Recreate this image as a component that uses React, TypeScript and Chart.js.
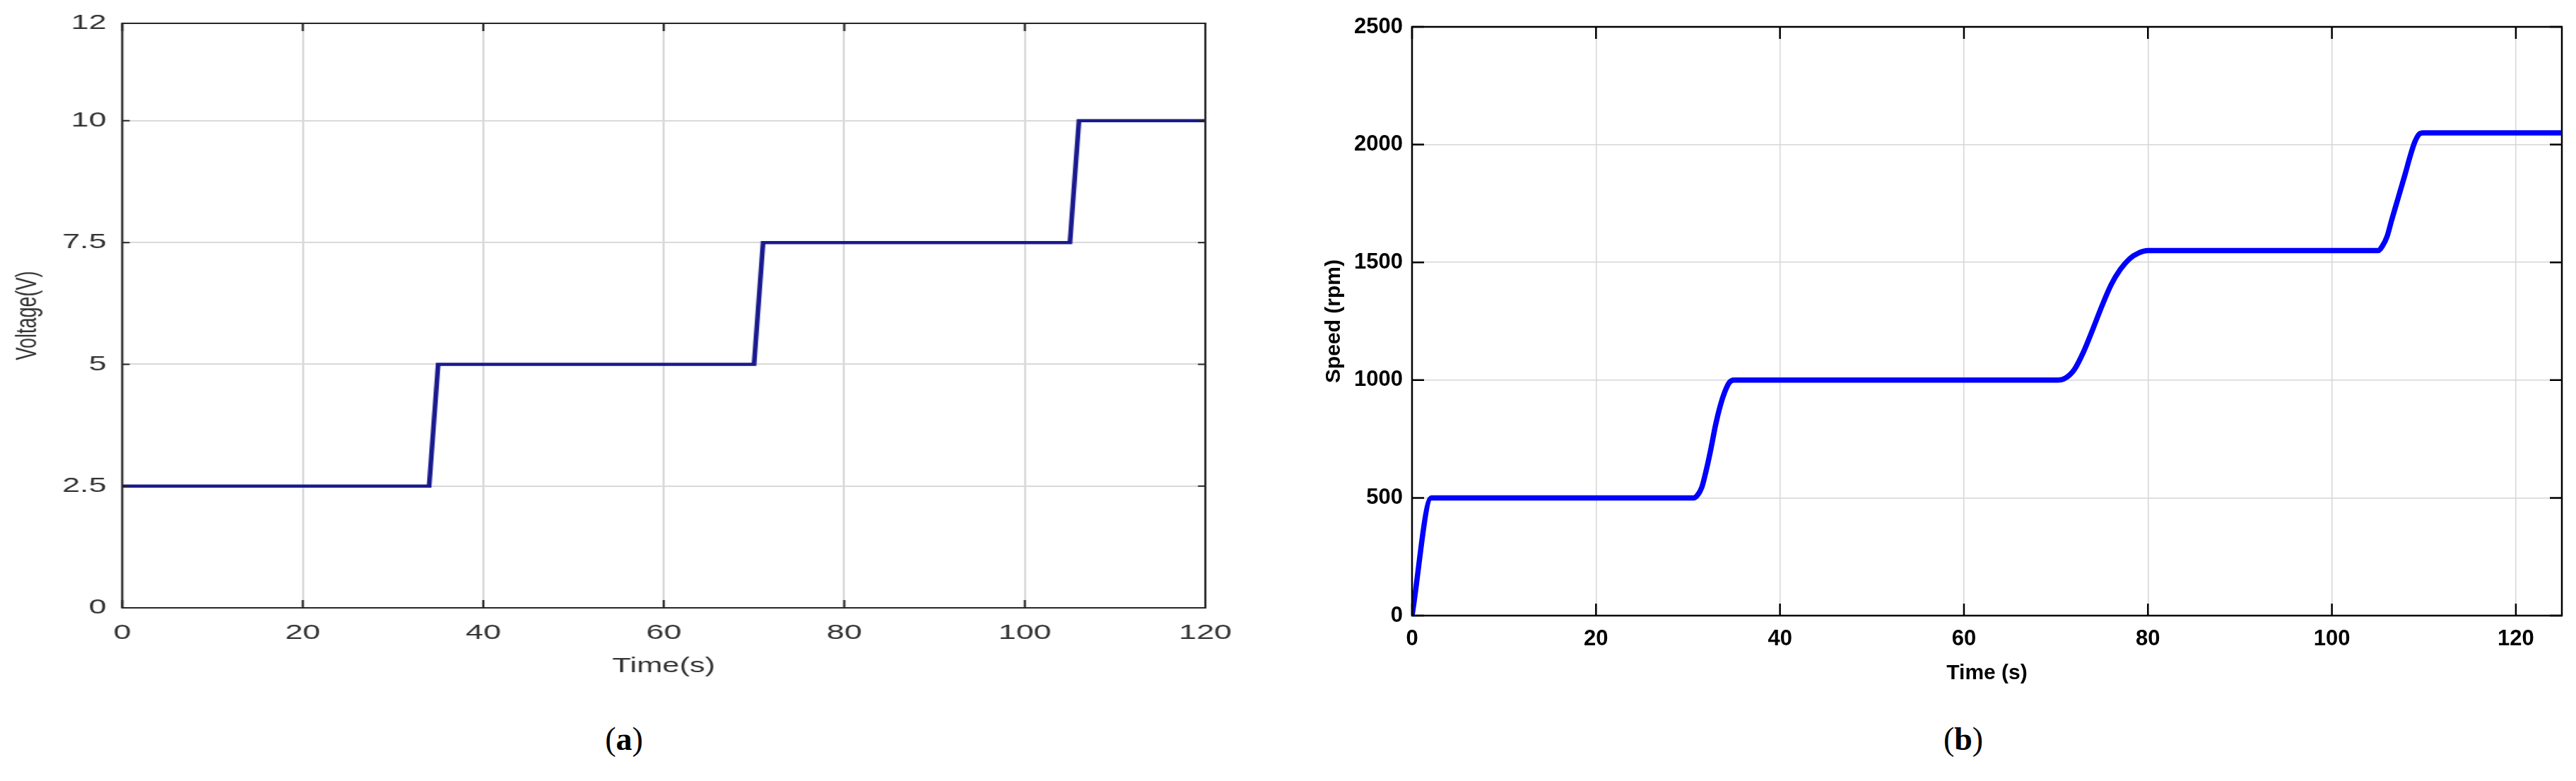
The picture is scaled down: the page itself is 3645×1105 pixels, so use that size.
import React, { useEffect, useRef } from 'react';
import { Chart, registerables } from 'chart.js';

Chart.register(...registerables);

// ---------- (a) Voltage ----------
const voltageTime = [0, 34, 35, 70, 71, 105, 106, 120];
const voltageValues = [2.5, 2.5, 5, 5, 7.5, 7.5, 10, 10];
const voltageXTicks = [0, 20, 40, 60, 80, 100, 120];
const voltageYTicks = [0, 2.5, 5, 7.5, 10, 12];

// ---------- (b) Speed ----------
const speedTime = [
  0, 2.1,
  30.6, 31.0, 31.5, 32.0, 32.5, 33.0, 33.5, 34.0, 34.5, 35.0,
  70.2, 71, 72, 73, 74, 75, 76, 77, 78, 79, 80,
  105.0, 105.5, 106.0, 106.5, 107.2, 108.0, 108.5, 109.0, 109.5, 109.9,
  125,
];
const speedValues = [
  0, 500,
  500, 510, 545, 620, 710, 810, 890, 950, 990, 1000,
  1000, 1008, 1045, 1120, 1215, 1315, 1405, 1470, 1515, 1540, 1550,
  1550, 1570, 1610, 1680, 1773, 1880, 1950, 2010, 2045, 2050,
  2050,
];
const speedXTicks = [0, 20, 40, 60, 80, 100, 120];
const speedYTicks = [0, 500, 1000, 1500, 2000, 2500];

const framePlugin = {
  id: 'frame',
  afterDatasetsDraw(chart: any, _args: any, opts: any) {
    const { ctx, chartArea, scales } = chart;
    const { left, right, top, bottom } = chartArea;
    const x = scales.x;
    const y = scales.y;
    ctx.save();
    ctx.strokeStyle = opts.color;
    ctx.lineWidth = opts.width;
    ctx.beginPath();
    x.ticks.forEach((t: any) => {
      const px = x.getPixelForValue(t.value);
      ctx.moveTo(px, bottom);
      ctx.lineTo(px, bottom - opts.len);
      ctx.moveTo(px, top);
      ctx.lineTo(px, top + opts.len);
    });
    y.ticks.forEach((t: any) => {
      const py = y.getPixelForValue(t.value);
      ctx.moveTo(left, py);
      ctx.lineTo(left + opts.hlen, py);
      ctx.moveTo(right, py);
      ctx.lineTo(right - opts.hlen, py);
    });
    ctx.stroke();
    ctx.strokeRect(left, top, right - left, bottom - top);
    ctx.restore();
  },
};

function setTicks(values: number[]) {
  return (scale: any) => {
    scale.ticks = values.map((v) => ({ value: v }));
  };
}

function VoltageChart() {
  const ref = useRef<HTMLCanvasElement>(null);
  useEffect(() => {
    const font = { family: '"Liberation Sans", Arial, Helvetica, sans-serif', size: 30 };
    const chart = new Chart(ref.current as HTMLCanvasElement, {
      type: 'line',
      data: {
        datasets: [
          {
            data: voltageTime.map((t, i) => ({ x: t, y: voltageValues[i] })),
            borderColor: '#1a1a8e',
            borderWidth: 4.5,
            pointRadius: 0,
            tension: 0,
            fill: false,
          },
        ],
      },
      options: {
        responsive: false,
        animation: false,
        devicePixelRatio: 1,
        layout: { padding: { left: 0, top: 25, right: 56, bottom: 0 } },
        plugins: {
          legend: { display: false },
          tooltip: { enabled: false },
          frame: { color: '#262626', width: 2, len: 11, hlen: 7 },
        } as any,
        scales: {
          x: {
            type: 'linear',
            min: 0,
            max: 120,
            afterBuildTicks: setTicks(voltageXTicks),
            afterFit: (s: any) => { s.height = 140; },
            grid: { color: '#d9d9d9', lineWidth: 2, drawTicks: false },
            border: { display: false },
            ticks: { font, color: '#333333', padding: 18, maxRotation: 0, autoSkip: false },
            title: {
              display: true,
              text: 'Time(s)',
              font: { ...font, size: 29 },
              color: '#333333',
              padding: { top: 0, bottom: 40 },
            },
          },
          y: {
            type: 'linear',
            min: 0,
            max: 12,
            afterBuildTicks: setTicks(voltageYTicks),
            afterFit: (s: any) => { s.width = 115.33; },
            grid: { color: '#d9d9d9', lineWidth: 2, drawTicks: false },
            border: { display: false },
            ticks: { font, color: '#333333', padding: 15, autoSkip: false, callback: (v: any) => String(v) },
            title: {
              display: true,
              text: 'Voltage(V)',
              font: { ...font, size: 27 },
              color: '#333333',
              padding: { top: 10, bottom: 0 },
            },
          },
        },
      },
      plugins: [framePlugin],
    } as any);
    return () => chart.destroy();
  }, []);
  return (
    <div style={{ position: 'absolute', left: 0, top: 0, transform: 'scaleX(1.5)', transformOrigin: 'left top' }}>
      <canvas ref={ref} width={1193} height={1000} style={{ width: 1193, height: 1000, display: 'block' }} />
    </div>
  );
}

function SpeedChart() {
  const ref = useRef<HTMLCanvasElement>(null);
  useEffect(() => {
    const font = { family: '"Liberation Sans", Arial, Helvetica, sans-serif', size: 31, weight: 'bold' as const };
    const chart = new Chart(ref.current as HTMLCanvasElement, {
      type: 'line',
      data: {
        datasets: [
          {
            data: speedTime.map((t, i) => ({ x: t, y: speedValues[i] })),
            borderColor: '#0000ff',
            borderWidth: 7.5,
            pointRadius: 0,
            cubicInterpolationMode: 'monotone',
            fill: false,
          },
        ],
      },
      options: {
        responsive: false,
        animation: false,
        devicePixelRatio: 1,
        layout: { padding: { left: 0, top: 38, right: 20, bottom: 0 } },
        plugins: {
          legend: { display: false },
          tooltip: { enabled: false },
          frame: { color: '#000000', width: 2.5, len: 17, hlen: 17 },
        } as any,
        scales: {
          x: {
            type: 'linear',
            min: 0,
            max: 125,
            afterBuildTicks: setTicks(speedXTicks),
            afterFit: (s: any) => { s.height = 129; },
            grid: { color: '#d6d6d6', lineWidth: 1.5, drawTicks: false },
            border: { display: false },
            ticks: { font, color: '#000000', padding: 15, maxRotation: 0, autoSkip: false },
            title: {
              display: true,
              text: 'Time (s)',
              font: { ...font, size: 30 },
              color: '#000000',
              padding: { top: 0, bottom: 29 },
            },
          },
          y: {
            type: 'linear',
            min: 0,
            max: 2500,
            afterBuildTicks: setTicks(speedYTicks),
            afterFit: (s: any) => { s.width = 198; },
            grid: { color: '#d6d6d6', lineWidth: 1.5, drawTicks: false },
            border: { display: false },
            ticks: { font, color: '#000000', padding: 13, autoSkip: false, callback: (v: any) => String(v) },
            title: {
              display: true,
              text: 'Speed (rpm)',
              font: { ...font, size: 30 },
              color: '#000000',
              padding: { top: 70, bottom: 0 },
            },
          },
        },
      },
      plugins: [framePlugin],
    } as any);
    return () => chart.destroy();
  }, []);
  return (
    <div style={{ position: 'absolute', left: 1800, top: 0 }}>
      <canvas ref={ref} width={1845} height={1000} style={{ width: 1845, height: 1000, display: 'block' }} />
    </div>
  );
}

export default function App() {
  useEffect(() => {
    document.body.style.margin = '0';
  }, []);
  const caption: React.CSSProperties = {
    position: 'absolute',
    top: 1020,
    fontFamily: '"Liberation Serif", "Times New Roman", serif',
    fontSize: 46,
    color: '#000',
    transform: 'translateX(-50%)',
    whiteSpace: 'nowrap',
    lineHeight: '52px',
  };
  return (
    <div style={{ position: 'fixed', left: 0, top: 0, width: 3645, height: 1105, background: '#fff', overflow: 'hidden' }}>
      <VoltageChart />
      <SpeedChart />
      <div style={{ ...caption, left: 883 }}>(<b>a</b>)</div>
      <div style={{ ...caption, left: 2778 }}>(<b>b</b>)</div>
    </div>
  );
}
